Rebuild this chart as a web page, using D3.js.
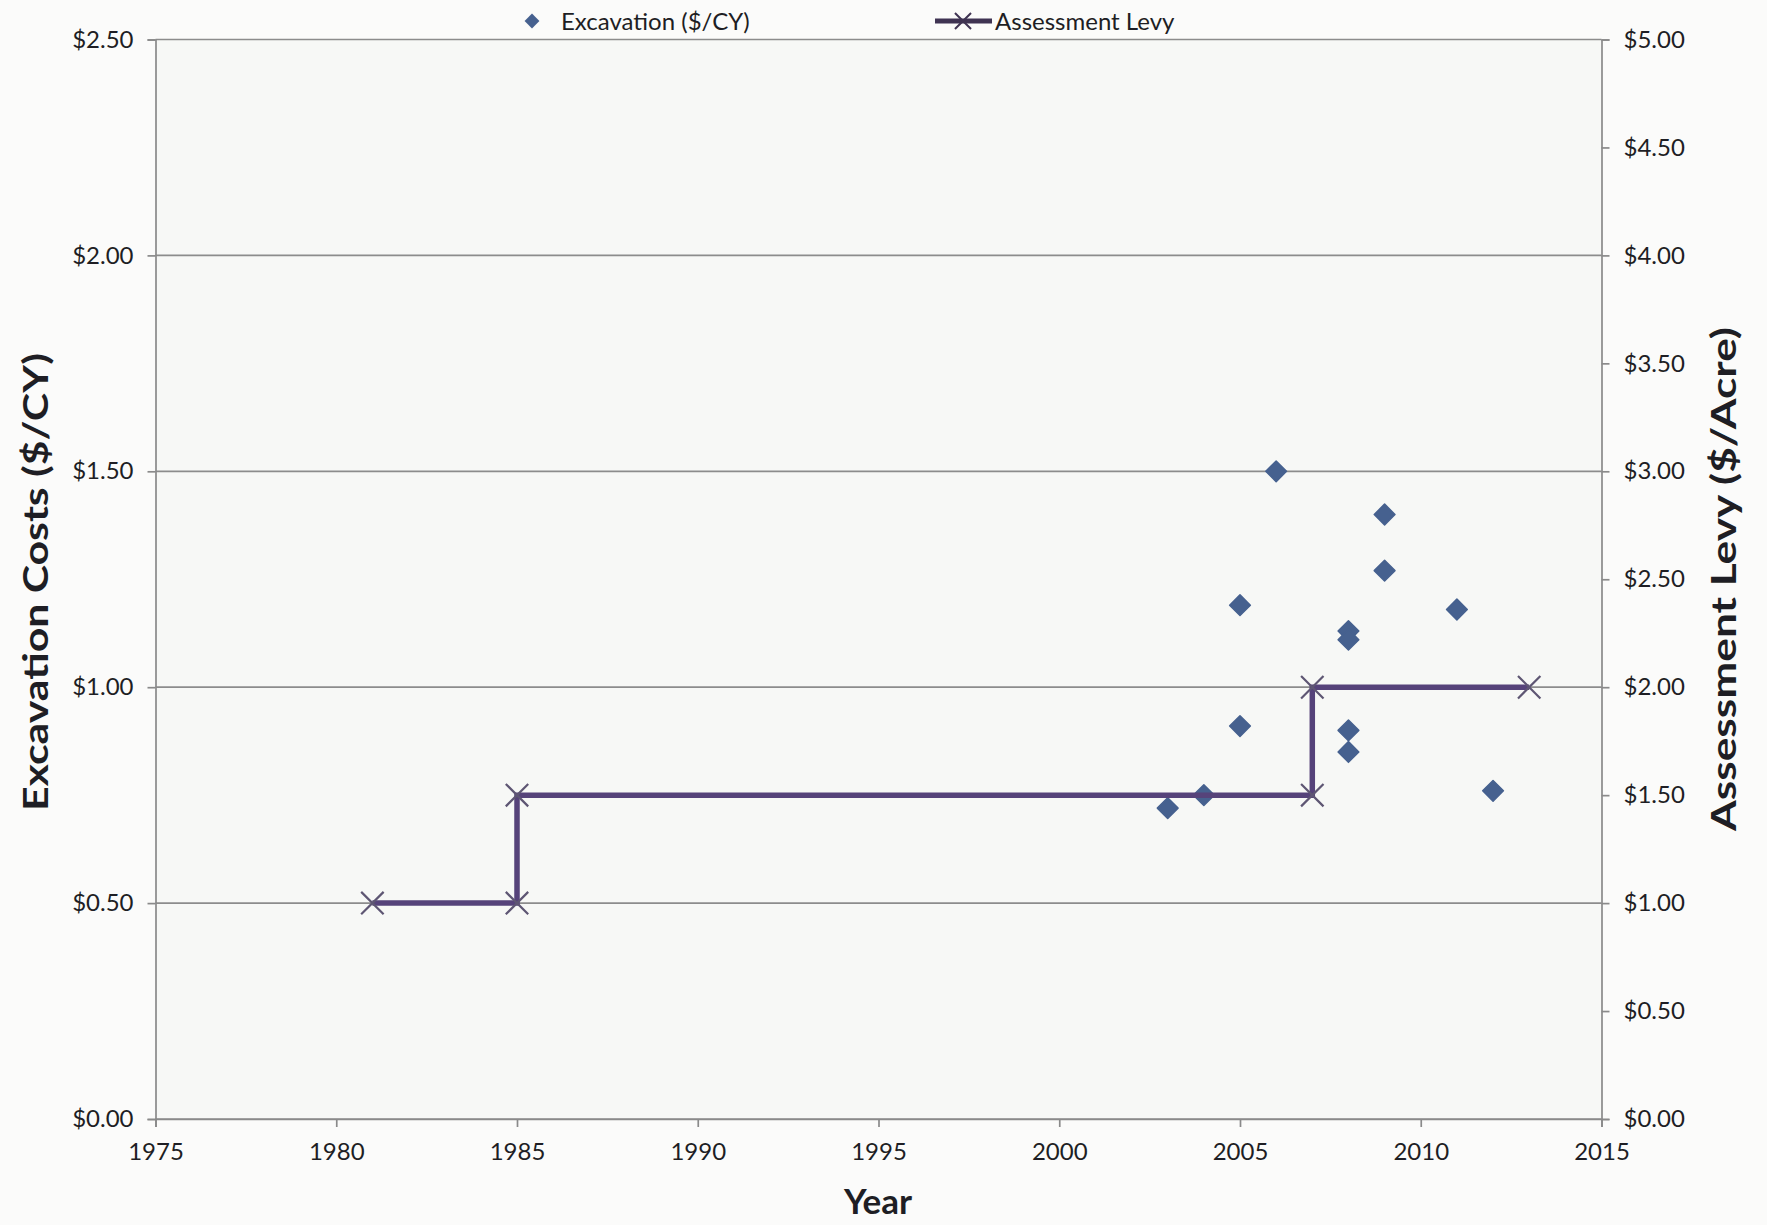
<!DOCTYPE html>
<html>
<head>
<meta charset="utf-8">
<script src="https://cdn.jsdelivr.net/npm/d3@7"></script>
<style>
  html, body { margin: 0; padding: 0; background: #fbfbfa; }
  svg { display: block; }
  text { font-family: Lato, "Open Sans", sans-serif; fill: #1e1e24; }
</style>
</head>
<body>
<svg id="chart" width="1767" height="1225"></svg>
<script>
// Excavation cost observations ($/CY) by year
const excavationYears = [2003, 2004, 2005, 2005, 2006, 2008, 2008, 2008, 2008, 2009, 2009, 2011, 2012];
const excavationCosts = [0.72, 0.75, 1.19, 0.91, 1.50, 1.13, 1.11, 0.90, 0.85, 1.40, 1.27, 1.18, 0.76];

// Assessment levy ($/Acre), step changes
const levyYears  = [1981, 1985, 1985, 2007, 2007, 2013];
const levyValues = [1.00, 1.00, 1.50, 1.50, 2.00, 2.00];

// Axis ticks
const yearTicks = [1975, 1980, 1985, 1990, 1995, 2000, 2005, 2010, 2015];
const costTicks = [0, 0.5, 1.0, 1.5, 2.0, 2.5];
const levyTicks = [0, 0.5, 1.0, 1.5, 2.0, 2.5, 3.0, 3.5, 4.0, 4.5, 5.0];

const svg = d3.select("#chart");
const plot = { left: 155.5, right: 1601.5, top: 39.5, bottom: 1119 };

const x  = d3.scaleLinear().domain([1975, 2015]).range([plot.left, plot.right]);
const yL = d3.scaleLinear().domain([0, 2.5]).range([plot.bottom, plot.top]);
const yR = d3.scaleLinear().domain([0, 5]).range([plot.bottom, plot.top]);

const money = d => "$" + d3.format(".2f")(d);

// plot background
svg.append("rect")
  .attr("x", plot.left).attr("y", plot.top)
  .attr("width", plot.right - plot.left).attr("height", plot.bottom - plot.top)
  .attr("fill", "#f7f8f6");

// horizontal gridlines
svg.append("g").selectAll("line")
  .data(costTicks)
  .join("line")
  .attr("x1", plot.left).attr("x2", plot.right)
  .attr("y1", d => yL(d)).attr("y2", d => yL(d))
  .attr("stroke", "#8c8c8c").attr("stroke-width", 1.7);

// axes
const axisStyle = g => {
  g.select(".domain").attr("stroke", "#8a8a8a").attr("stroke-width", 1.7);
  g.selectAll(".tick line").attr("stroke", "#8a8a8a").attr("stroke-width", 1.7);
  g.selectAll(".tick text").attr("font-size", 24).attr("fill", "#1e1e24")
    .attr("font-family", "Lato, 'Open Sans', sans-serif");
};

svg.append("g")
  .attr("transform", `translate(${plot.left},0)`)
  .call(d3.axisLeft(yL).tickValues(costTicks).tickFormat(money).tickSizeOuter(0).tickSize(8).tickPadding(14))
  .call(axisStyle);

svg.append("g")
  .attr("transform", `translate(${plot.right},0)`)
  .call(d3.axisRight(yR).tickValues(levyTicks).tickFormat(money).tickSizeOuter(0).tickSize(8).tickPadding(14))
  .call(axisStyle);

svg.append("g")
  .attr("transform", `translate(0,${plot.bottom})`)
  .call(d3.axisBottom(x).tickValues(yearTicks).tickFormat(d3.format("d")).tickSizeOuter(0).tickSize(8).tickPadding(16))
  .call(axisStyle);

// excavation scatter (diamonds)
const diamond = d3.symbol().type(d3.symbolSquare).size(215);
svg.append("g").selectAll("path")
  .data(excavationYears.map((yr, i) => ({ yr, v: excavationCosts[i] })))
  .join("path")
  .attr("d", diamond)
  .attr("transform", d => `translate(${x(d.yr)},${yL(d.v)}) rotate(45)`)
  .attr("fill", "#46618f")
  .attr("stroke", "#46618f").attr("stroke-width", 1.5).attr("stroke-linejoin", "round");

// assessment levy step line
const levy = levyYears.map((yr, i) => ({ yr, v: levyValues[i] }));
svg.append("path")
  .datum(levy)
  .attr("d", d3.line().x(d => x(d.yr)).y(d => yR(d.v)))
  .attr("fill", "none")
  .attr("stroke", "#56437a")
  .attr("stroke-width", 5.5);

const cross = d3.symbol().type(d3.symbolTimes).size(330);
svg.append("g").selectAll("path")
  .data(levy)
  .join("path")
  .attr("d", cross)
  .attr("transform", d => `translate(${x(d.yr)},${yR(d.v)})`)
  .attr("fill", "none")
  .attr("stroke", "#5e5673")
  .attr("stroke-width", 2.2);

// axis titles
svg.append("text")
  .attr("transform", "translate(48,582) rotate(-90)")
  .attr("text-anchor", "middle")
  .attr("font-size", 34).attr("font-weight", "bold")
  .attr("textLength", 458).attr("lengthAdjust", "spacingAndGlyphs")
  .text("Excavation Costs ($/CY)");

svg.append("text")
  .attr("transform", "translate(1736,579) rotate(-90)")
  .attr("text-anchor", "middle")
  .attr("font-size", 34).attr("font-weight", "bold")
  .attr("textLength", 504).attr("lengthAdjust", "spacingAndGlyphs")
  .text("Assessment Levy ($/Acre)");

svg.append("text")
  .attr("x", 878).attr("y", 1214)
  .attr("text-anchor", "middle")
  .attr("font-size", 35).attr("font-weight", "bold")
  .text("Year");

// legend
const legend = svg.append("g");
legend.append("path")
  .attr("d", d3.symbol().type(d3.symbolSquare).size(110))
  .attr("transform", "translate(532,21) rotate(45)")
  .attr("fill", "#46618f");
legend.append("text")
  .attr("x", 561).attr("y", 30)
  .attr("font-size", 24)
  .text("Excavation ($/CY)");
legend.append("line")
  .attr("x1", 935).attr("x2", 992).attr("y1", 21).attr("y2", 21)
  .attr("stroke", "#3f3352").attr("stroke-width", 5);
legend.append("path")
  .attr("d", d3.symbol().type(d3.symbolTimes).size(170))
  .attr("transform", "translate(963,21)")
  .attr("fill", "none").attr("stroke", "#3f3352").attr("stroke-width", 2);
legend.append("text")
  .attr("x", 995).attr("y", 30)
  .attr("font-size", 24)
  .text("Assessment Levy");
</script>
</body>
</html>
